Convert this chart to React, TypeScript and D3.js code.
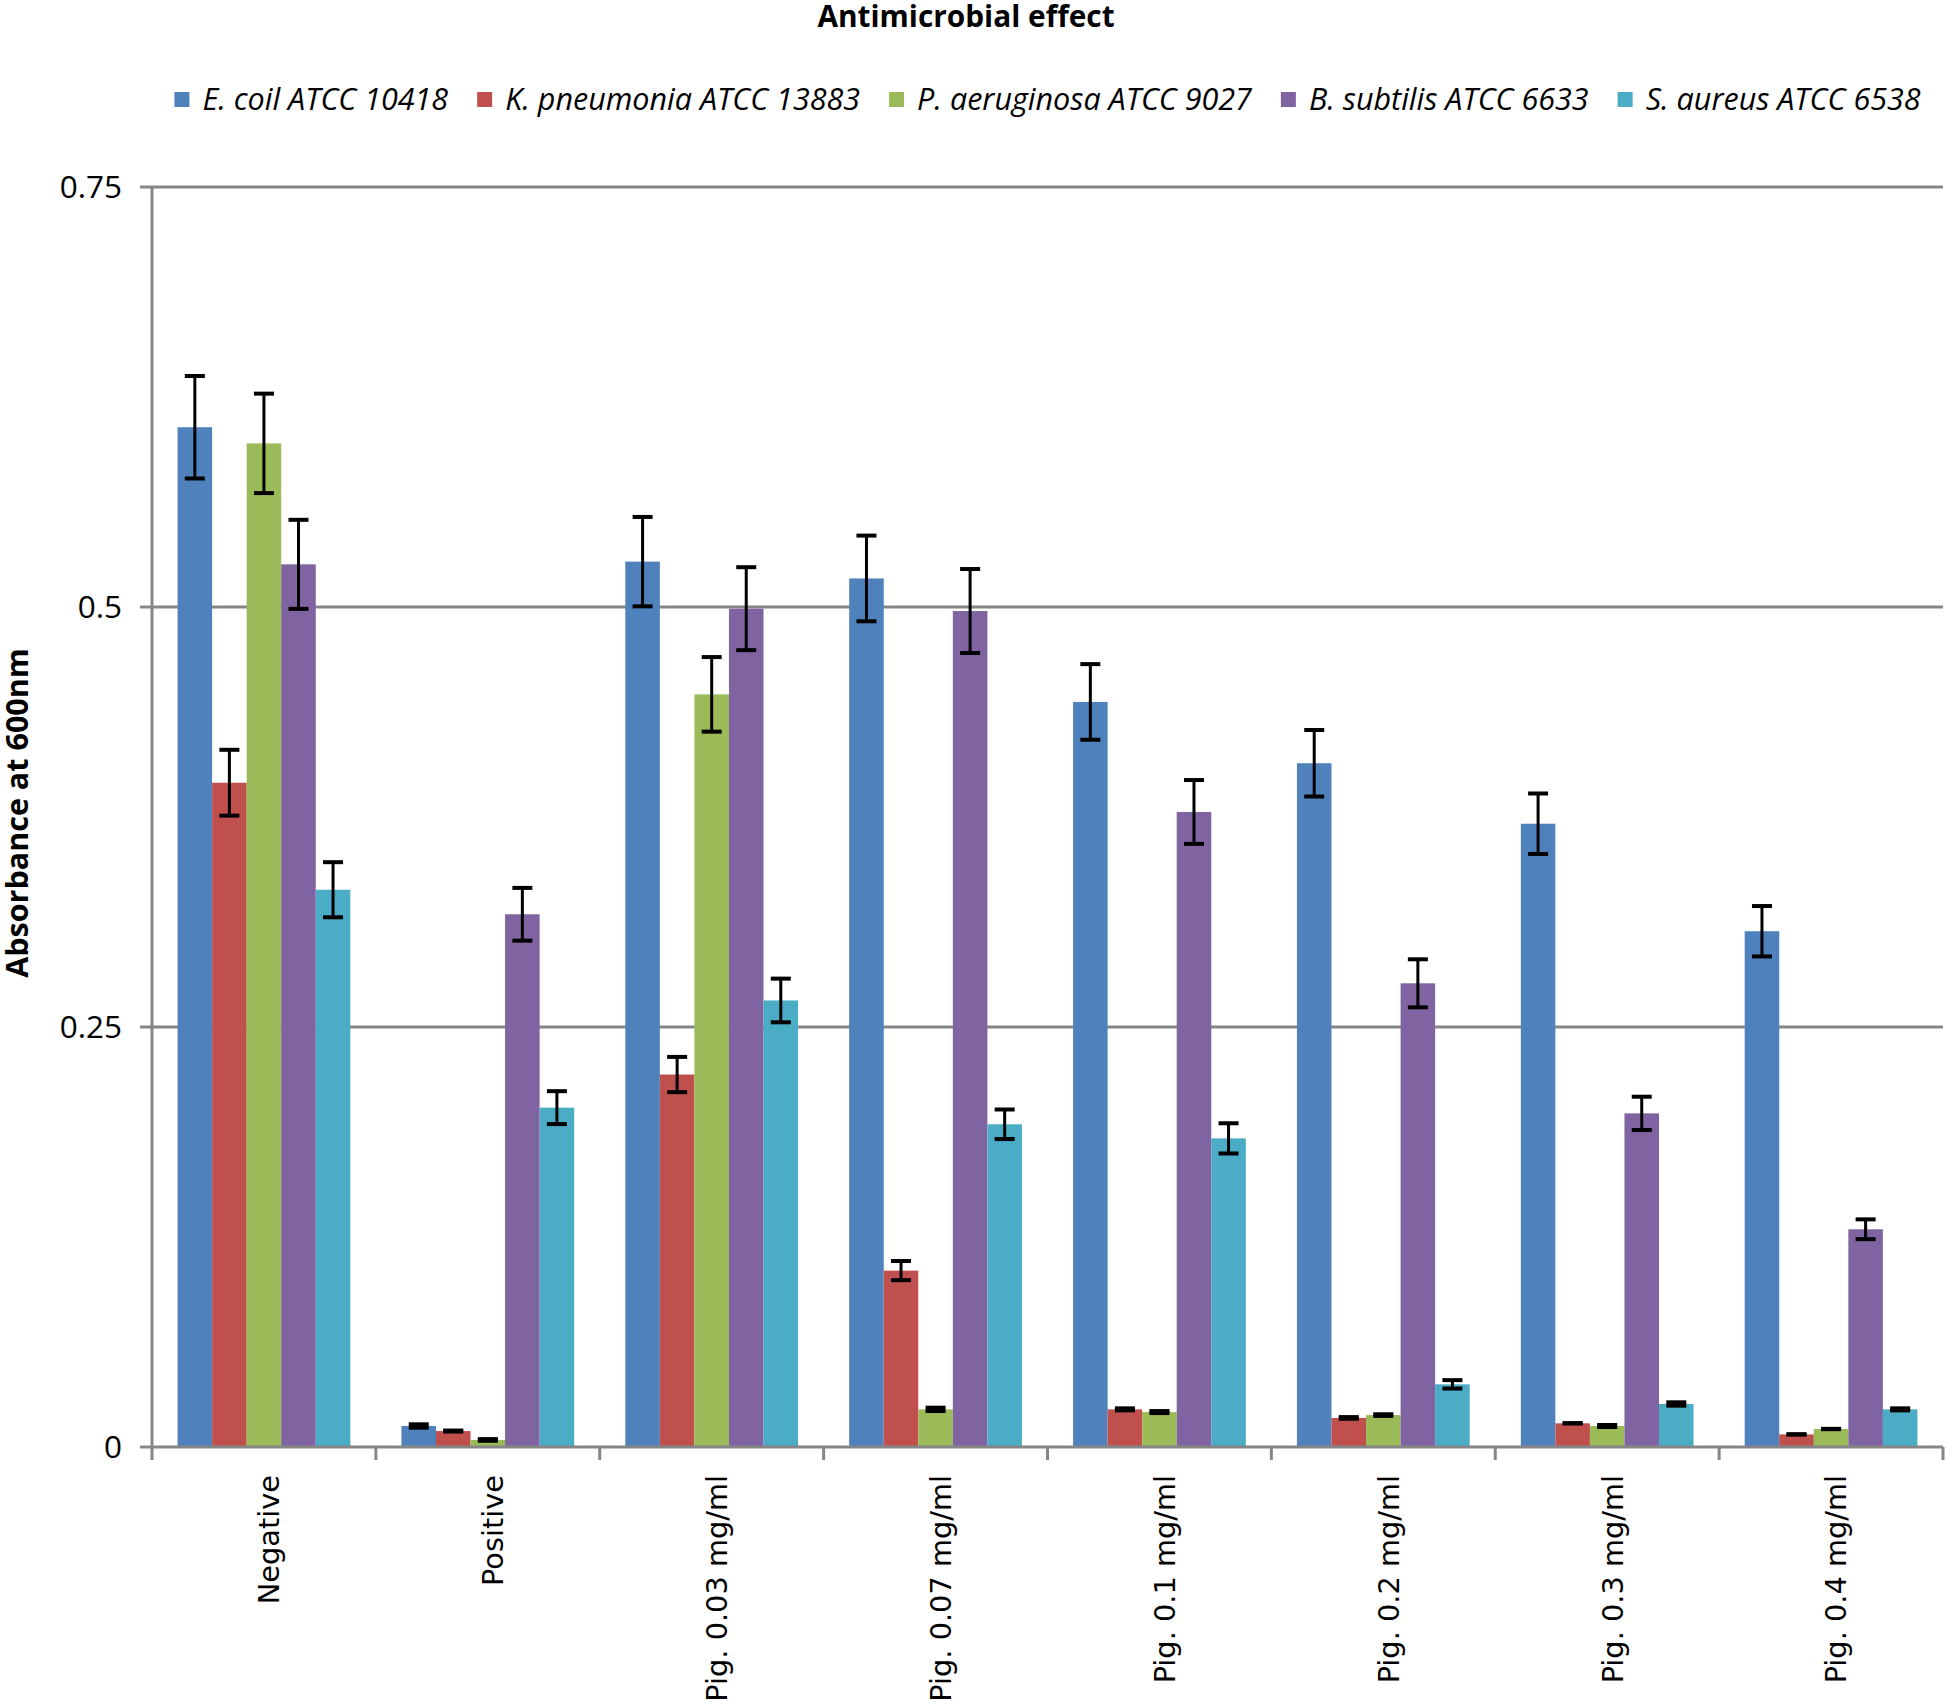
import React, { useEffect, useRef } from "react";
import * as d3 from "d3";

const categories = [
  "Negative",
  "Positive",
  "Pig. 0.03 mg/ml",
  "Pig. 0.07 mg/ml",
  "Pig. 0.1 mg/ml",
  "Pig. 0.2 mg/ml",
  "Pig. 0.3 mg/ml",
  "Pig. 0.4 mg/ml",
];

const seriesNames = [
  "E. coil ATCC 10418",
  "K. pneumonia ATCC 13883",
  "P. aeruginosa ATCC 9027",
  "B. subtilis ATCC 6633",
  "S. aureus ATCC 6538",
];

const seriesColors = ["#4F81BD", "#C0504D", "#9BBB59", "#8064A2", "#4BACC6"];

const ecoli = [0.607, 0.0125, 0.527, 0.517, 0.4435, 0.407, 0.371, 0.307];
const ecoliErr = [0.0305, 0.001, 0.0266, 0.0255, 0.0225, 0.0198, 0.018, 0.015];
const kpneu = [0.3954, 0.0095, 0.2217, 0.105, 0.0224, 0.0173, 0.0141, 0.0075];
const kpneuErr = [0.0196, 0.0003, 0.0105, 0.0057, 0.0006, 0.0005, 0.0001, 0.0001];
const paer = [0.5974, 0.0042, 0.448, 0.0224, 0.0208, 0.019, 0.0125, 0.0107];
const paerErr = [0.0296, 0.0005, 0.0222, 0.001, 0.0006, 0.0005, 0.0006, 0.0001];
const bsub = [0.5254, 0.3171, 0.499, 0.4976, 0.378, 0.276, 0.1986, 0.1296];
const bsubErr = [0.0265, 0.0157, 0.0247, 0.025, 0.019, 0.0143, 0.0099, 0.0059];
const saur = [0.3317, 0.202, 0.2658, 0.1921, 0.1837, 0.0373, 0.0256, 0.0224];
const saurErr = [0.0164, 0.0098, 0.013, 0.0088, 0.009, 0.0025, 0.001, 0.0006];

const yTicks = [0, 0.25, 0.5, 0.75];
const yTickLabels = ["0", "0.25", "0.5", "0.75"];

const seriesValues = [ecoli, kpneu, paer, bsub, saur];
const seriesErrors = [ecoliErr, kpneuErr, paerErr, bsubErr, saurErr];

const W = 1947;
const H = 1705;
const M = { left: 152, right: 1943, top: 187, bottom: 1447 };

export default function App() {
  const ref = useRef<SVGSVGElement | null>(null);

  useEffect(() => {
    const svg = d3.select(ref.current);
    svg.selectAll("*").remove();

    const x0 = d3.scaleBand<string>().domain(categories).range([M.left, M.right]).padding(0);
    const x1 = d3
      .scaleBand<string>()
      .domain(seriesNames)
      .range([0, x0.bandwidth()])
      .paddingInner(0)
      .paddingOuter(0.74);
    const y = d3.scaleLinear().domain([0, 0.75]).range([M.bottom, M.top]);

    const gridColor = "#868686";

    // gridlines
    svg
      .append("g")
      .selectAll("line")
      .data(yTicks.filter((t) => t > 0))
      .join("line")
      .attr("x1", M.left)
      .attr("x2", M.right)
      .attr("y1", (d) => y(d))
      .attr("y2", (d) => y(d))
      .attr("stroke", gridColor)
      .attr("stroke-width", 3);

    // y axis
    const yAxis = svg.append("g");
    yAxis
      .append("line")
      .attr("x1", M.left)
      .attr("x2", M.left)
      .attr("y1", M.top - 1)
      .attr("y2", M.bottom)
      .attr("stroke", gridColor)
      .attr("stroke-width", 3);
    yAxis
      .selectAll("line.tick")
      .data(yTicks)
      .join("line")
      .attr("class", "tick")
      .attr("x1", M.left - 12)
      .attr("x2", M.left)
      .attr("y1", (d) => y(d))
      .attr("y2", (d) => y(d))
      .attr("stroke", gridColor)
      .attr("stroke-width", 3);
    yAxis
      .selectAll("text")
      .data(yTicks)
      .join("text")
      .attr("x", M.left - 30)
      .attr("y", (d) => y(d))
      .attr("dy", "0.36em")
      .attr("text-anchor", "end")
      .attr("font-family", "'Open Sans', sans-serif")
      .attr("font-size", 31.5)
      .attr("fill", "#000")
      .text((d, i) => yTickLabels[i]);

    // bars
    const groups = svg
      .append("g")
      .selectAll("g")
      .data(categories)
      .join("g")
      .attr("transform", (d) => `translate(${x0(d)},0)`);

    groups
      .selectAll("rect")
      .data((c, ci) => seriesNames.map((s, si) => ({ s, si, v: seriesValues[si][ci] })))
      .join("rect")
      .attr("x", (d) => x1(d.s)!)
      .attr("width", x1.bandwidth())
      .attr("y", (d) => y(d.v))
      .attr("height", (d) => y(0) - y(d.v))
      .attr("fill", (d) => seriesColors[d.si]);

    // x axis
    const xAxis = svg.append("g");
    xAxis
      .append("line")
      .attr("x1", M.left)
      .attr("x2", M.right)
      .attr("y1", M.bottom)
      .attr("y2", M.bottom)
      .attr("stroke", gridColor)
      .attr("stroke-width", 3);
    const boundaries = categories.map((c) => x0(c)!).concat([M.right]);
    xAxis
      .selectAll("line.tick")
      .data(boundaries)
      .join("line")
      .attr("class", "tick")
      .attr("x1", (d) => d)
      .attr("x2", (d) => d)
      .attr("y1", M.bottom)
      .attr("y2", M.bottom + 13)
      .attr("stroke", gridColor)
      .attr("stroke-width", 3);
    xAxis
      .selectAll("text")
      .data(categories)
      .join("text")
      .attr(
        "transform",
        (d) => `translate(${x0(d)! + x0.bandwidth() / 2 + 5},${M.bottom + 28}) rotate(-90)`
      )
      .attr("text-anchor", "end")
      .attr("dy", "0.36em")
      .attr("font-family", "'DejaVu Sans', sans-serif")
      .attr("font-size", 28.8)
      .attr("fill", "#000")
      .text((d) => d);

    // error bars
    const eb = groups
      .selectAll("g.err")
      .data((c, ci) =>
        seriesNames.map((s, si) => ({
          s,
          v: seriesValues[si][ci],
          e: seriesErrors[si][ci],
        }))
      )
      .join("g")
      .attr("class", "err")
      .attr("transform", (d) => `translate(${x1(d.s)! + x1.bandwidth() / 2},0)`);
    eb.append("line")
      .attr("x1", 0)
      .attr("x2", 0)
      .attr("y1", (d) => y(d.v + d.e))
      .attr("y2", (d) => y(d.v - d.e))
      .attr("stroke", "#000")
      .attr("stroke-width", 3);
    eb.selectAll("line.cap")
      .data((d) => [d.v + d.e, d.v - d.e])
      .join("line")
      .attr("class", "cap")
      .attr("x1", -10)
      .attr("x2", 10)
      .attr("y1", (d) => y(d))
      .attr("y2", (d) => y(d))
      .attr("stroke", "#000")
      .attr("stroke-width", 4);

    // title
    svg
      .append("text")
      .attr("x", 966)
      .attr("y", 27)
      .attr("text-anchor", "middle")
      .attr("font-family", "'Open Sans', sans-serif")
      .attr("font-weight", "bold")
      .attr("font-size", 29.8)
      .attr("fill", "#000")
      .text("Antimicrobial effect");

    // y axis title
    svg
      .append("text")
      .attr("transform", `translate(28,${813}) rotate(-90)`)
      .attr("text-anchor", "middle")
      .attr("font-family", "'Open Sans', sans-serif")
      .attr("font-weight", "bold")
      .attr("font-size", 30.5)
      .attr("fill", "#000")
      .text("Absorbance at 600nm");

    // legend
    const legend = svg.append("g");
    const items = legend
      .selectAll("g")
      .data(seriesNames)
      .join("g");
    items
      .append("rect")
      .attr("x", 0)
      .attr("y", 92)
      .attr("width", 15)
      .attr("height", 15)
      .attr("fill", (d, i) => seriesColors[i]);
    items
      .append("text")
      .attr("x", 28)
      .attr("y", 110)
      .attr("font-family", "'Open Sans', sans-serif")
      .attr("font-style", "italic")
      .attr("font-size", 30.5)
      .attr("fill", "#000")
      .text((d) => d);
    let cx = 0;
    const offsets: number[] = [];
    items.each(function () {
      const t = d3.select(this).select("text").node() as SVGTextElement;
      offsets.push(cx);
      cx += 28 + t.getComputedTextLength() + 29;
    });
    const total = cx - 29;
    const start = (M.left + M.right) / 2 - total / 2;
    items.attr("transform", (d, i) => `translate(${start + offsets[i]},0)`);
  }, []);

  return (
    <svg
      ref={ref}
      width={W}
      height={H}
      style={{ position: "absolute", left: 0, top: 0, background: "#fff" }}
    />
  );
}
